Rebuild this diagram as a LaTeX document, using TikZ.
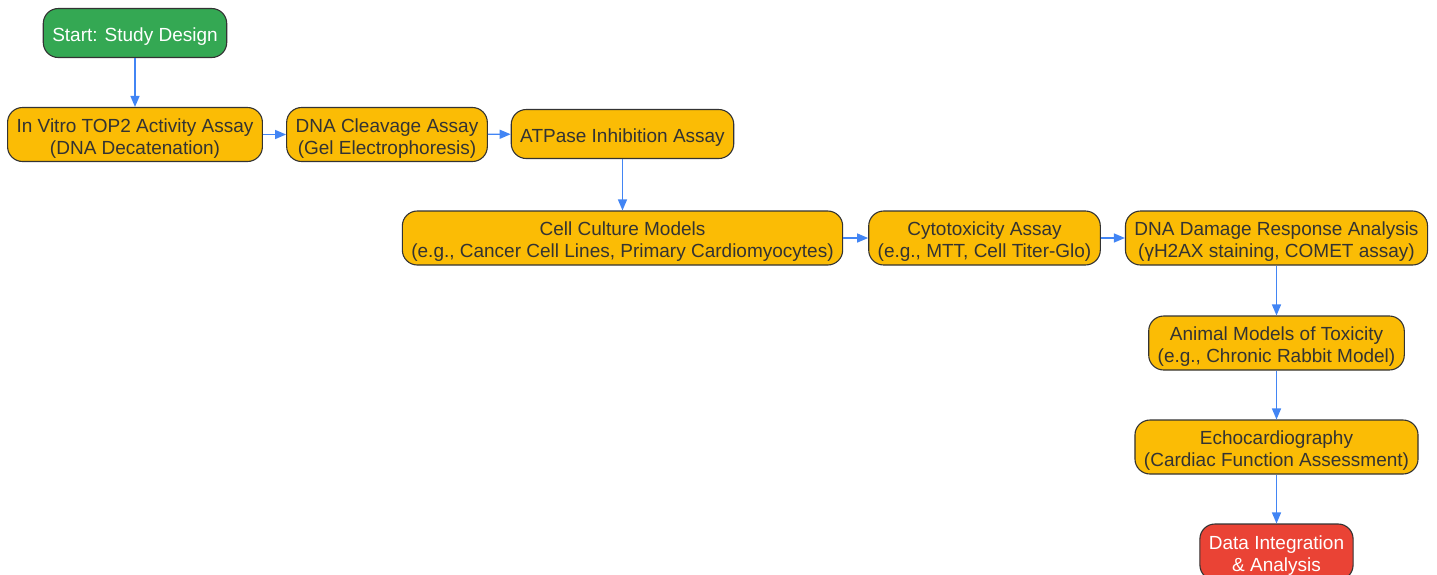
\documentclass[tikz,border=0pt]{standalone}
\usepackage{fontspec}
\setmainfont{Liberation Sans}
\usepackage{tikz}
\usetikzlibrary{arrows.meta}
\usetikzlibrary{positioning}

\definecolor{stepyellow}{HTML}{FBBC05}
\definecolor{startgreen}{HTML}{34A853}
\definecolor{endred}{HTML}{EA4335}
\definecolor{flowblue}{HTML}{4285F4}
\definecolor{edgegray}{HTML}{333333}

\begin{document}
\begin{tikzpicture}
	[x=1pt,y=-1pt,
	every node/.style={rounded corners=15pt,draw=edgegray,line width=1.1pt,fill=stepyellow,
		text=edgegray,align=center,inner xsep=9pt,minimum height=54pt,
		font=\fontsize{19}{22}\selectfont},
	tworow/.style={execute at begin node={\rule{0pt}{43pt}}},
	onerow/.style={minimum height=49pt,execute at begin node={\rule{0pt}{20pt}}},
	startbox/.style={onerow,fill=startgreen,text=white},
	endbox/.style={tworow,fill=endred,text=white,minimum height=56pt},
	flow/.style={draw=flowblue,line width=1.3pt,-{Triangle[length=11pt,width=9pt]}}]
	\useasboundingbox (0,0) rectangle (1437,574);
	\node[startbox] (n1) at (135,33) {Start: Study Design};
	\node[tworow] (n2) at (135,134.5) {In Vitro TOP2 Activity Assay\\(DNA Decatenation)};
	\node[tworow] (n3) at (387,134.5) {DNA Cleavage Assay\\(Gel Electrophoresis)};
	\node[onerow] (n4) at (622.5,134) {ATPase Inhibition Assay};
	\node[tworow] (n5) at (622.5,238) {Cell Culture Models\\(e.g., Cancer Cell Lines, Primary Cardiomyocytes)};
	\node[tworow] (n6) at (984.5,238) {Cytotoxicity Assay\\(e.g., MTT, Cell Titer-Glo)};
	\node[tworow] (n7) at (1276.5,238) {DNA Damage Response Analysis\\(γH2AX staining, COMET assay)};
	\node[tworow] (n8) at (1276.5,343) {Animal Models of Toxicity\\(e.g., Chronic Rabbit Model)};
	\node[tworow] (n9) at (1276.5,447) {Echocardiography\\(Cardiac Function Assessment)};
	\node[endbox] (n10) at (1276.5,552) {Data Integration\\\&~Analysis};

	\foreach \from/\to in
	{n1/n2, n2/n3, n3/n4, n4/n5, n5/n6, n6/n7, n7/n8, n8/n9, n9/n10}
	\draw[flow] (\from) -- (\to);
\end{tikzpicture}
\end{document}
